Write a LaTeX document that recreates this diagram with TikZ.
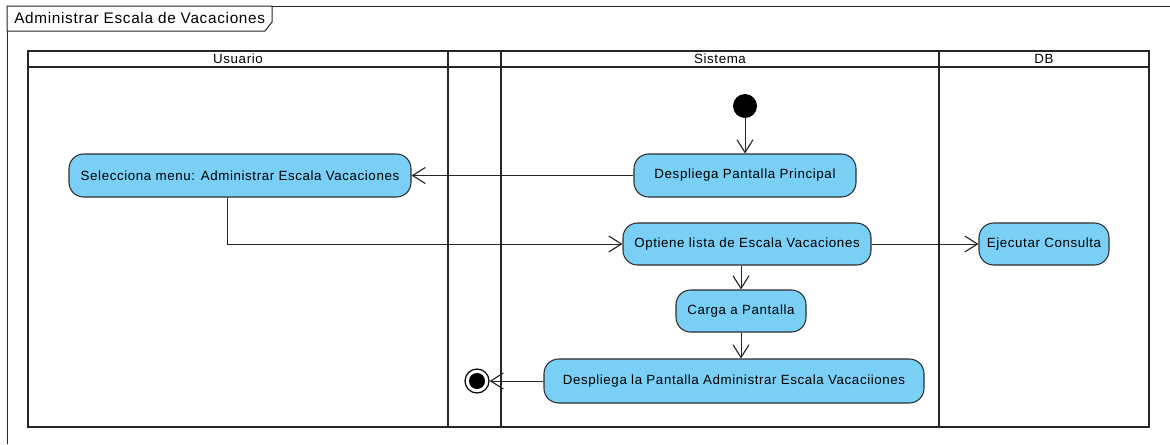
\documentclass[tikz,border=0pt]{standalone}
\usepackage{fontspec}
\setmainfont{Liberation Sans}
\newfontfamily\diagfont[LetterSpace=4.5]{Liberation Sans}
\usetikzlibrary{arrows.meta}
\definecolor{actfill}{RGB}{122,207,245}
\definecolor{actdraw}{RGB}{45,45,45}
\begin{document}
\begin{tikzpicture}[x=0.75pt,y=-0.75pt,
  act/.style={draw=actdraw,fill=actfill,rounded corners=11pt,line width=0.8pt,
    font=\diagfont\fontsize{10}{12}\selectfont,inner sep=0pt,align=center},
  flow/.style={draw=black!85,line width=0.7pt,
    -{Straight Barb[length=9.5pt,width=12pt,line width=0.85pt]}},
  lane/.style={line width=2pt,draw=black!85},
  lanelabel/.style={font=\diagfont\fontsize{10}{12}\selectfont,inner sep=0pt}]
\path[use as bounding box] (0,0) rectangle (1170,444);
% outer frame
\draw[line width=0.75pt,draw=black!85] (7,444) -- (7,6) -- (1170,6);
\draw[line width=0.75pt,draw=black!85,fill=white] (7,6) -- (272,6) -- (272,22) -- (265,31) -- (7,31) -- cycle;
\node[anchor=west,font=\diagfont\fontsize{11.5}{13}\selectfont,inner sep=0pt] (title) at (14,18.5) {Administrar Escala de Vacaciones};
% swimlanes
\draw[lane] (28,51) rectangle (1149,427);
\draw[lane] (28,67) -- (1149,67);
\draw[lane] (448,51) -- (448,427);
\draw[lane] (501,51) -- (501,427);
\draw[lane] (939,51) -- (939,427);
\node[lanelabel] (lusuario) at (238,59) {Usuario};
\node[lanelabel] (lsistema) at (720,59) {Sistema};
\node[lanelabel] (ldb) at (1044,59) {DB};
% nodes
\node[circle,fill=black,minimum size=18pt,inner sep=0pt] (start) at (745,106) {};
\node[act,minimum width=166.5pt,minimum height=32.25pt] (dpp) at (745,175.5) {Despliega Pantalla Principal};
\node[act,minimum width=256.5pt,minimum height=32.25pt] (sel) at (240,175.5) {Selecciona menu: Administrar Escala Vacaciones};
\node[act,minimum width=186pt,minimum height=31.5pt] (opt) at (747,244) {Optiene lista de Escala Vacaciones};
\node[act,minimum width=97.5pt,minimum height=31.5pt] (eje) at (1044,244) {Ejecutar Consulta};
\node[act,minimum width=97.5pt,minimum height=31.5pt] (carga) at (741,311) {Carga a Pantalla};
\node[act,minimum width=285pt,minimum height=33pt] (dpl) at (734,381) {Despliega la Pantalla Administrar Escala Vacaciiones};
\node[circle,draw=black,fill=white,line width=0.9pt,minimum size=18pt,inner sep=0pt] (end) at (477,381) {};
\fill[black] (end.center) circle (6pt);
% connectors
\draw[flow] (start) -- (dpp.north -| start);
\draw[flow] (dpp.west) -- (sel.east);
\draw[flow] ([xshift=-9.75pt]sel.south) |- (opt.west);
\draw[flow] (opt.east) -- (eje.west);
\draw[flow] (opt.south -| carga.north) -- (carga.north);
\draw[flow] (carga.south) -- (carga.south |- dpl.north);
\draw[flow] (dpl.west) -- (end.east);
\end{tikzpicture}
\end{document}
